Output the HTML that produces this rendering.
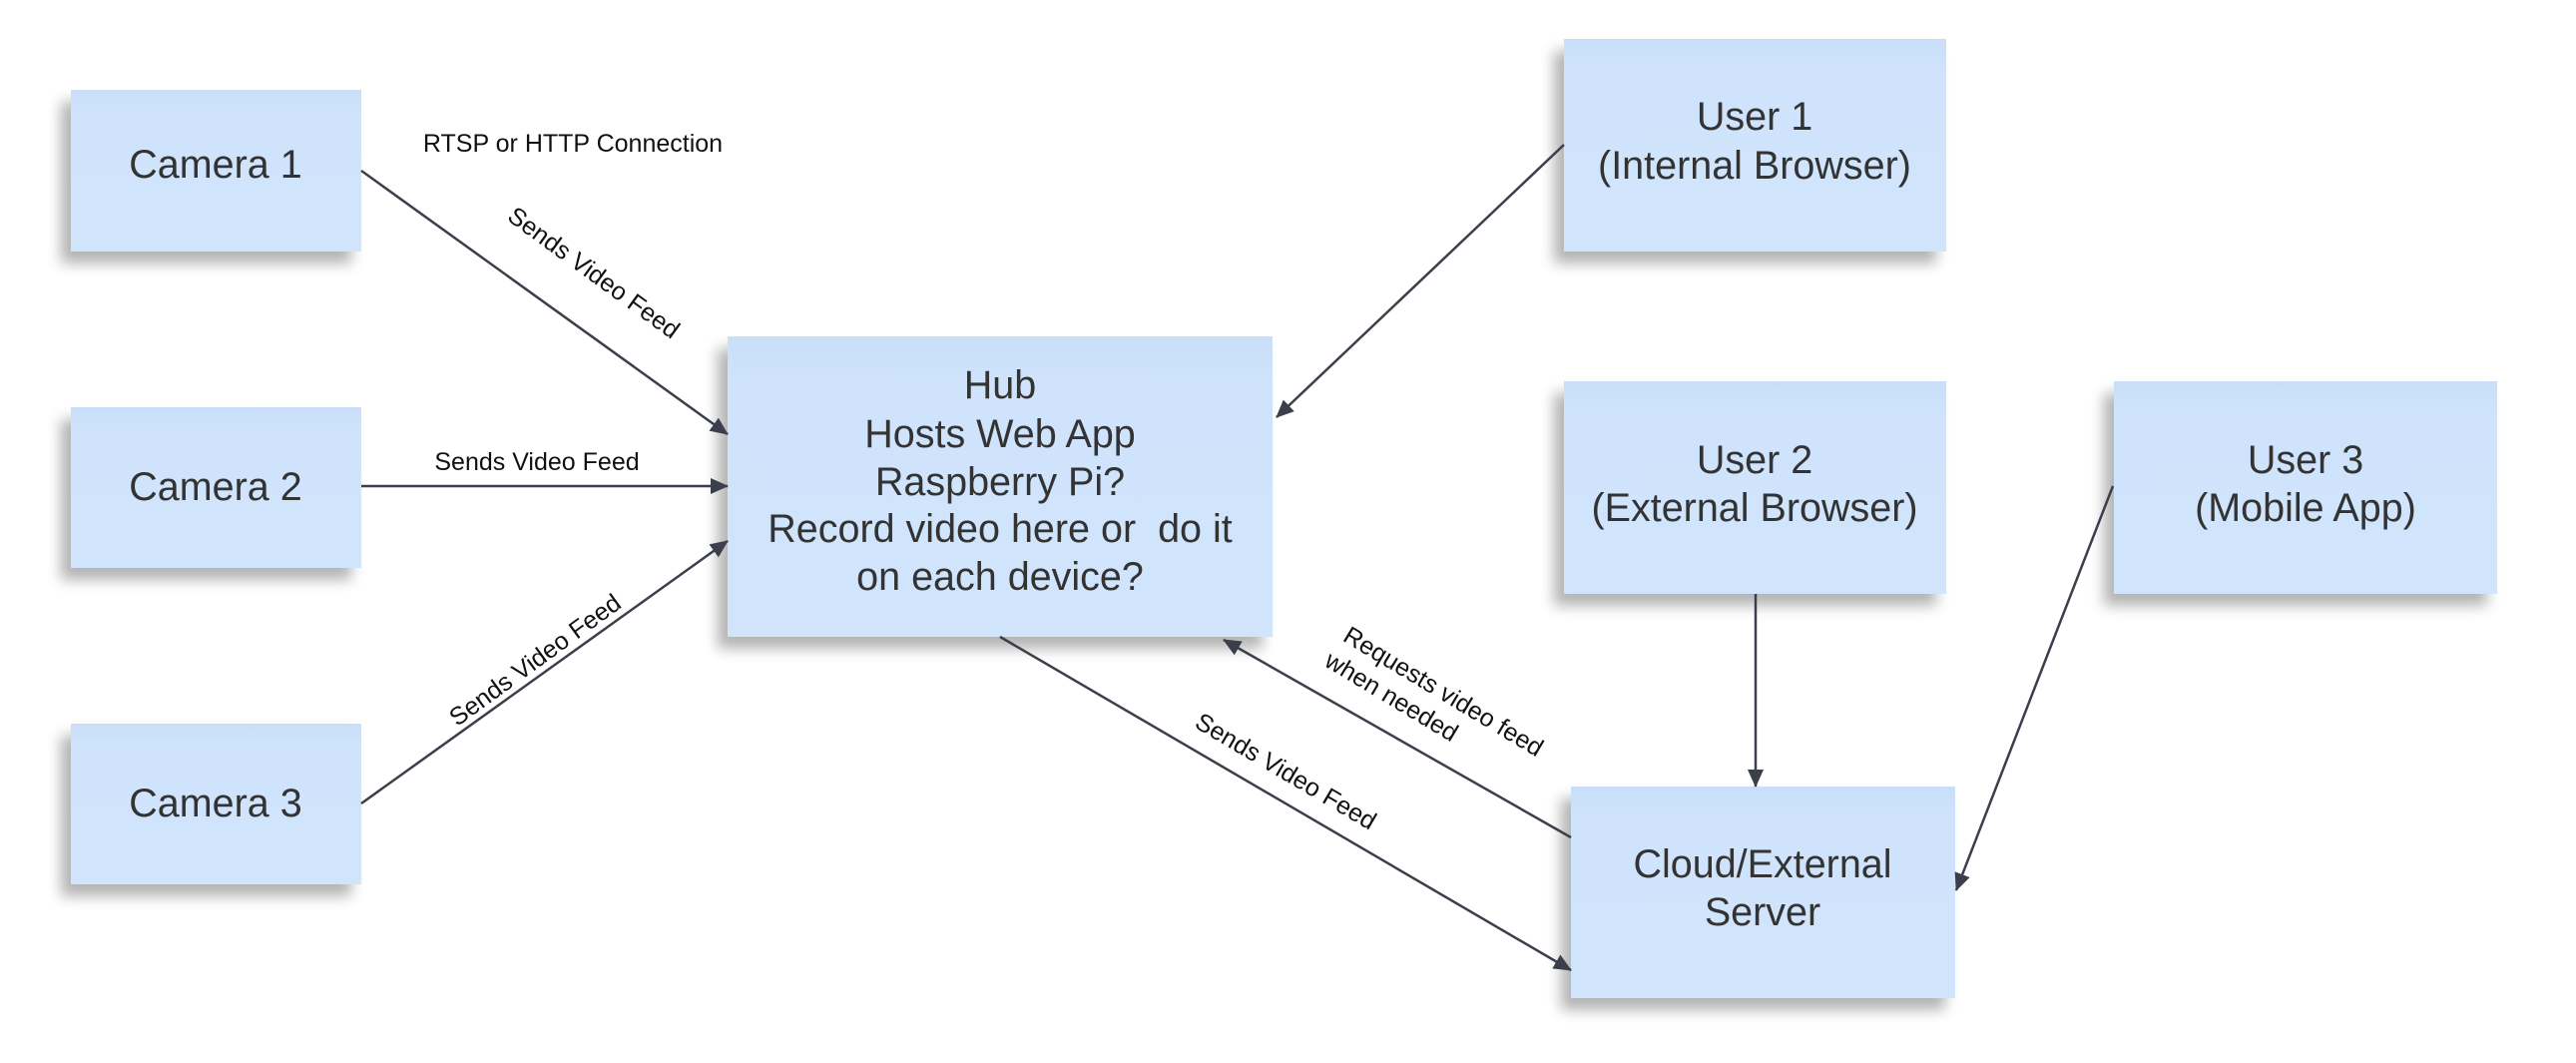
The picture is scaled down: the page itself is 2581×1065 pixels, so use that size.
<!DOCTYPE html>
<html><head><meta charset="utf-8"><style>
html,body{margin:0;padding:0;background:#fff;overflow:hidden;}
svg{display:block;font-family:"Liberation Sans",Arial,sans-serif;}
</style></head><body>
<svg width="2581" height="1065" viewBox="0 0 2581 1065" xmlns="http://www.w3.org/2000/svg">
<defs>
<filter id="sh" x="-20%" y="-20%" width="140%" height="150%">
<feGaussianBlur in="SourceAlpha" stdDeviation="7"/>
<feOffset dx="-10" dy="12" result="b"/>
<feComponentTransfer><feFuncA type="linear" slope="0.3"/></feComponentTransfer>
<feMerge><feMergeNode/><feMergeNode in="SourceGraphic"/></feMerge>
</filter>
<marker id="ar" markerWidth="18" markerHeight="18" refX="17" refY="9" orient="auto" markerUnits="userSpaceOnUse">
<path d="M0,1 L18,9 L0,17 z" fill="#3a3f4b"/>
</marker>
<linearGradient id="g" x1="0" y1="0" x2="0" y2="1"><stop offset="0" stop-color="#c9def8"/><stop offset="0.15" stop-color="#cfe3fc"/><stop offset="1" stop-color="#d0e4fc"/></linearGradient>
</defs>
<g filter="url(#sh)" fill="url(#g)">
<rect x="71" y="90" width="291" height="162"/>
<rect x="71" y="408" width="291" height="161"/>
<rect x="71" y="725" width="291" height="161"/>
<rect x="729" y="337" width="546" height="301"/>
<rect x="1567" y="39" width="383" height="213"/>
<rect x="1567" y="382" width="383" height="213"/>
<rect x="2118" y="382" width="384" height="213"/>
<rect x="1574" y="788" width="385" height="212"/>
</g>
<g stroke="#3a3f4b" stroke-width="2.5" fill="none" marker-end="url(#ar)">
<line x1="362" y1="171" x2="729" y2="435"/>
<line x1="362" y1="487" x2="729" y2="487"/>
<line x1="362" y1="805" x2="729" y2="542"/>
<line x1="1567" y1="145" x2="1279" y2="418"/>
<line x1="1002" y1="638" x2="1574" y2="972"/>
<line x1="1574" y1="839" x2="1226" y2="641"/>
<line x1="1759" y1="595" x2="1759" y2="788"/>
<line x1="2117" y1="487" x2="1960" y2="892"/>
</g>
<g fill="#333" font-size="39.5" text-anchor="middle">
<text x="216" y="178">Camera 1</text>
<text x="216" y="501">Camera 2</text>
<text x="216" y="818">Camera 3</text>
<text x="1002" y="399">Hub</text>
<text x="1002" y="448">Hosts Web App</text>
<text x="1002" y="496">Raspberry Pi?</text>
<text x="1002" y="543" xml:space="preserve">Record video here or  do it</text>
<text x="1002" y="591">on each device?</text>
<text x="1758" y="130">User 1</text>
<text x="1758" y="179">(Internal Browser)</text>
<text x="1758" y="474">User 2</text>
<text x="1758" y="522">(External Browser)</text>
<text x="2310" y="474">User 3</text>
<text x="2310" y="522">(Mobile App)</text>
<text x="1766" y="879">Cloud/External</text>
<text x="1766" y="927">Server</text>
</g>
<g fill="#111" font-size="25" text-anchor="middle">
<text x="574" y="152">RTSP or HTTP Connection</text>
<text x="538" y="471">Sends Video Feed</text>
<text transform="translate(590,280) rotate(36)">Sends Video Feed</text>
<text transform="translate(541,668) rotate(-36)">Sends Video Feed</text>
<text transform="translate(1284,780) rotate(30.5)">Sends Video Feed</text>
<text transform="translate(1442,700) rotate(31)">Requests video feed</text>
<text transform="translate(1390,705) rotate(31)">when needed</text>
</g>
</svg>
</body></html>
